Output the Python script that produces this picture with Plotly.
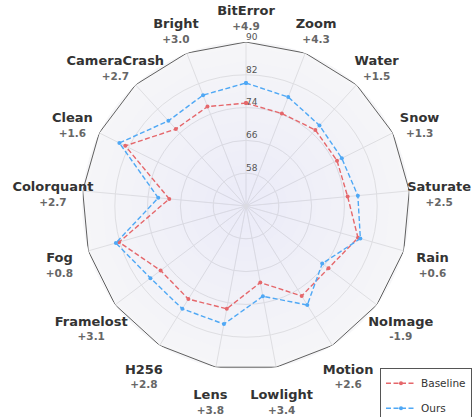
import plotly.graph_objects as go

# Robustness benchmark: accuracy per corruption type
categories = ["BitError", "Zoom", "Water", "Snow", "Saturate", "Rain", "NoImage",
              "Motion", "Lowlight", "Lens", "H256", "Framelost", "Fog",
              "Colorquant", "Clean", "CameraCrash", "Bright"]
baseline = [75.1, 74.2, 75.1, 74.8, 74.9, 78.4, 75.2, 75.8, 69.0, 75.5,
            76.7, 76.1, 82.2, 68.8, 82.9, 75.4, 76.0]
ours = [80.0, 78.5, 76.6, 76.1, 77.4, 79.0, 73.3, 78.4, 72.4, 79.3,
        79.5, 79.2, 83.0, 71.5, 84.5, 78.1, 79.0]
gains = ["+4.9", "+4.3", "+1.5", "+1.3", "+2.5", "+0.6", "-1.9", "+2.6", "+3.4",
         "+3.8", "+2.8", "+3.1", "+0.8", "+2.7", "+1.6", "+2.7", "+3.0"]
radial_ticks = [58, 66, 74, 82, 90]

R_MIN, R_MAX = 50, 90
LABEL_R = 97.3          # radius of the category labels
LABEL_R_MAX = 100       # outer range of the label ring
FONT = "DejaVu Sans"
RED = "#e5676b"
BLUE = "#4fa8f5"

# Plot area geometry (paper pixels)
W, H = 475, 417
CX, CY, RADIUS = 246, 206, 164
PX_PER_UNIT = RADIUS / (R_MAX - R_MIN)


def domain_for(rmax):
    rad = (rmax - R_MIN) * PX_PER_UNIT
    return dict(x=[(CX - rad) / W, (CX + rad) / W],
                y=[(H - CY - rad) / H, (H - CY + rad) / H])


theta_closed = categories + categories[:1]


def closed(vals):
    return list(vals) + list(vals[:1])


fig = go.Figure()

# Soft lavender gradient towards the centre
n_layers = 10
for k in range(n_layers):
    lvl = R_MAX - 1 - k * (R_MAX - R_MIN - 4) / n_layers
    fig.add_trace(go.Scatterpolar(
        r=[lvl] * len(theta_closed), theta=theta_closed, mode="lines",
        line=dict(color="rgba(0,0,0,0)", width=0), fill="toself",
        fillcolor="rgba(234,216,244,0.026)", showlegend=False, hoverinfo="skip"))

# Outer polygon outline
fig.add_trace(go.Scatterpolar(
    r=[R_MAX] * len(theta_closed), theta=theta_closed, mode="lines",
    line=dict(color="#5f5f5f", width=1), showlegend=False, hoverinfo="skip"))

# Data series
fig.add_trace(go.Scatterpolar(
    r=closed(baseline), theta=theta_closed, mode="lines+markers", name="Baseline",
    line=dict(color=RED, width=1.4, dash="5px,2.5px"),
    marker=dict(size=4, color=RED), legendgroup="a"))
fig.add_trace(go.Scatterpolar(
    r=closed(ours), theta=theta_closed, mode="lines+markers", name="Ours",
    line=dict(color=BLUE, width=1.4, dash="5px,2.5px"),
    marker=dict(size=4, color=BLUE), legendgroup="b"))

# Radial tick values along the top spoke
fig.add_trace(go.Scatterpolar(
    r=radial_ticks, theta=[categories[0]] * len(radial_ticks), mode="text",
    text=[str(t) for t in radial_ticks], textposition="top right", cliponaxis=False,
    textfont=dict(family=FONT, size=9, color="#555555"),
    showlegend=False, hoverinfo="skip"))

# Category labels with the gain underneath, on a wider concentric ring
label_text = [
    "<br><span style='font-size:13px'><b>%s</b></span>"
    "<br><span style='font-size:10.5px;color:#666666'><b>%s</b></span>" % (c, g)
    for c, g in zip(categories, gains)]
fig.add_trace(go.Scatterpolar(
    r=[LABEL_R] * len(categories), theta=categories, mode="text", text=label_text,
    textposition="middle center", cliponaxis=False, subplot="polar2",
    textfont=dict(family=FONT, size=11.3, color="#333333"),
    showlegend=False, hoverinfo="skip"))

hidden_axis = dict(showticklabels=False, ticks="", showline=False, showgrid=False)

fig.update_layout(
    width=W, height=H,
    margin=dict(l=0, r=0, t=0, b=0, autoexpand=False),
    paper_bgcolor="white",
    font=dict(family=FONT, color="#333333"),
    polar=dict(
        domain=domain_for(R_MAX),
        bgcolor="#f6f6f8",
        gridshape="circular",
        radialaxis=dict(range=[R_MIN, R_MAX], tickvals=radial_ticks[:-1],
                        showticklabels=False, ticks="", showline=False,
                        gridcolor="#e0e0e2", gridwidth=0.8, angle=90),
        angularaxis=dict(direction="clockwise", rotation=90, showline=False,
                         showticklabels=False, ticks="",
                         gridcolor="#e0e0e2", gridwidth=0.8),
    ),
    polar2=dict(
        domain=domain_for(LABEL_R_MAX),
        bgcolor="rgba(0,0,0,0)",
        radialaxis=dict(range=[R_MIN, LABEL_R_MAX], **hidden_axis),
        angularaxis=dict(direction="clockwise", rotation=90, **hidden_axis),
    ),
    legend=dict(x=0.8, y=0.118, xanchor="left", yanchor="top",
                bgcolor="white", bordercolor="#555555", borderwidth=1,
                font=dict(family=FONT, size=10.5, color="#333333"),
                traceorder="grouped", tracegroupgap=6),
)

fig.write_html("out.html")
